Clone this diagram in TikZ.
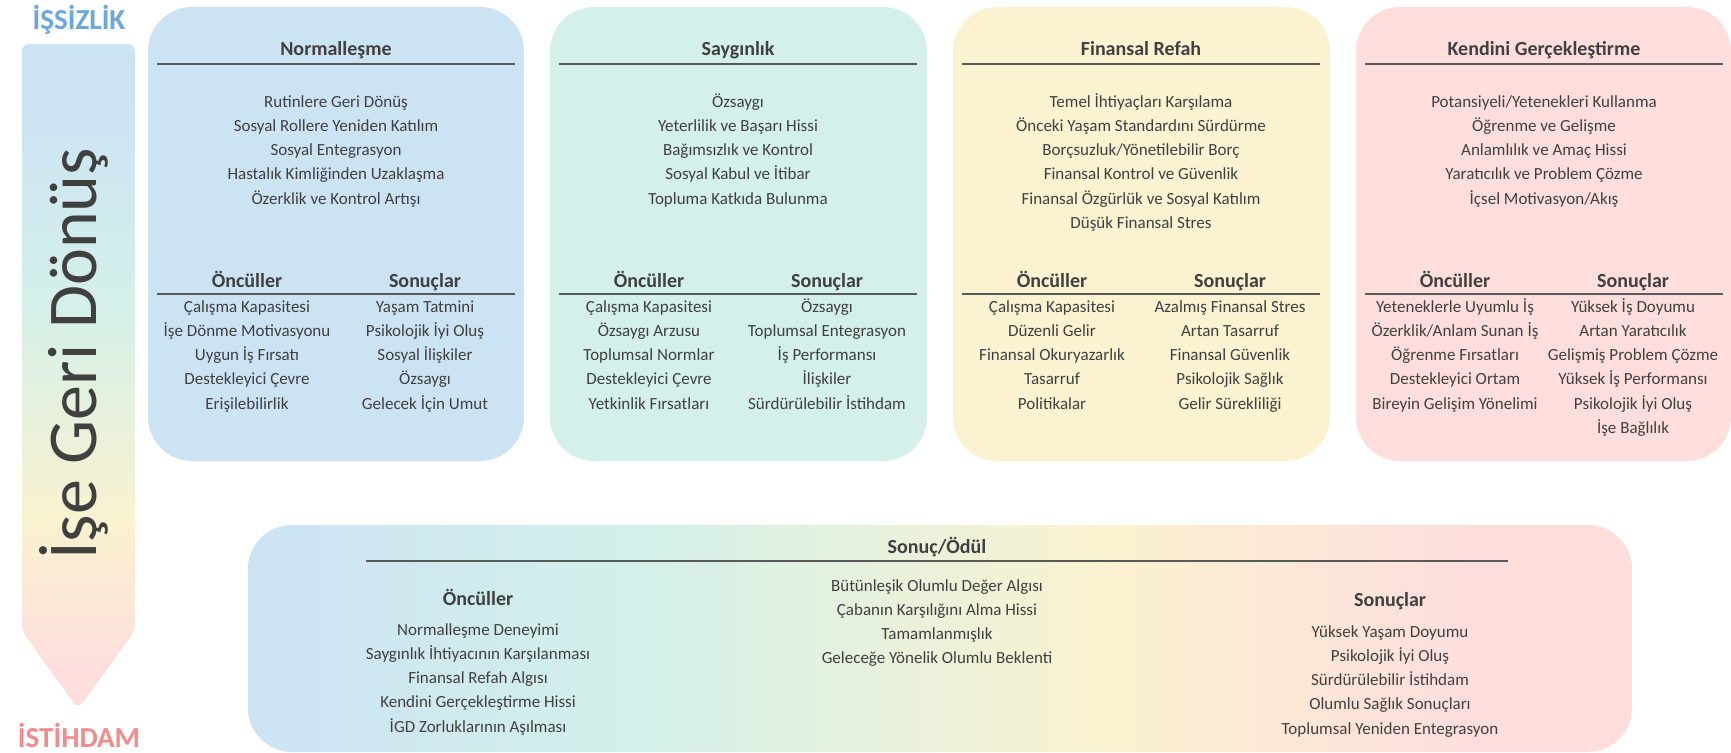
\documentclass[tikz,border=0pt]{standalone}
\usepackage{fontspec}
\setmainfont{Carlito}
\definecolor{bluebox}{HTML}{CCE3F4}
\definecolor{tealbox}{HTML}{D3F0EA}
\definecolor{yellowbox}{HTML}{FAF2D0}
\definecolor{pinkbox}{HTML}{FDDEDC}
\definecolor{txt}{HTML}{404040}
\definecolor{rulecol}{HTML}{595959}
\definecolor{startcol}{HTML}{6AA6E0}
\definecolor{endcol}{HTML}{F28B8B}
\pgfdeclareverticalshading{arrowgrad}{100bp}{color(0bp)=(pinkbox); color(28bp)=(pinkbox); color(39bp)=(yellowbox); color(56bp)=(tealbox); color(71bp)=(bluebox); color(100bp)=(bluebox)}
\pgfdeclarehorizontalshading{rewardgrad}{100bp}{color(0bp)=(bluebox); color(25bp)=(bluebox); color(39bp)=(tealbox); color(56bp)=(yellowbox); color(69bp)=(pinkbox); color(100bp)=(pinkbox)}
\tikzset{
  item/.style={font=\fontsize{17}{20}\selectfont, text=txt, inner sep=0pt, anchor=base},
  head/.style={font=\fontsize{20}{24}\selectfont\bfseries, text=txt, inner sep=0pt, anchor=base},
  endlabel/.style={font=\fontsize{29}{32}\selectfont\bfseries, inner sep=0pt, anchor=base},
  rule/.style={rulecol, line width=1.3pt}
}
% one column of lines: prefix, x, baseline of first line, lines
\newcommand\itemlist[4]{\foreach \t [count=\i] in {#4} \node[item] (#1\i) at (#2,{#3+(\i-1)*24.3}) {\t};}

\begin{document}
\begin{tikzpicture}[x=1pt,y=-1pt]
\useasboundingbox (0,0) rectangle (1731,752);

% arrow at the left
\shade[shading=arrowgrad, rounded corners=7] (22,44) -- (135,44) -- (135,631) -- (78,709) -- (22,631) -- cycle;
\node[font=\fontsize{70}{80}\selectfont, text=txt, rotate=90, anchor=base] (way) at (96,354) {İşe Geri Dönüş};
\node[endlabel, text=startcol] (start) at (79,30) {İŞSİZLİK};
\node[endlabel, text=endcol] (end) at (79,747) {İSTİHDAM};

% upper boxes
\fill[bluebox, rounded corners=44] (148,7) rectangle (524,461);
\fill[tealbox, rounded corners=44] (550,7) rectangle (927,461);
\fill[yellowbox, rounded corners=44] (953,7) rectangle (1330,461);
\fill[pinkbox, rounded corners=44] (1356,7) rectangle (1731,461);

\foreach \cx/\nm/\ttl in {336/a/Normalleşme, 738/b/Saygınlık, 1141/c/Finansal Refah, 1544/d/Kendini Gerçekleştirme}{
  \node[head] (\nm-title) at (\cx,56) {\ttl};
  \draw[rule] (\cx-179,64) -- (\cx+179,64);
  \node[head] (\nm-pre) at (\cx-89,287) {Öncüller};
  \node[head] (\nm-post) at (\cx+89,287) {Sonuçlar};
  \draw[rule] (\cx-179,294) -- (\cx+179,294);
}

% Normalleşme
\itemlist{a-}{336}{107}{Rutinlere Geri Dönüş, Sosyal Rollere Yeniden Katılım, Sosyal Entegrasyon, Hastalık Kimliğinden Uzaklaşma, Özerklik ve Kontrol Artışı}
\itemlist{a-p}{247}{312}{Çalışma Kapasitesi, İşe Dönme Motivasyonu, Uygun İş Fırsatı, Destekleyici Çevre, Erişilebilirlik}
\itemlist{a-s}{425}{312}{Yaşam Tatmini, Psikolojik İyi Oluş, Sosyal İlişkiler, Özsaygı, Gelecek İçin Umut}

% Saygınlık
\itemlist{b-}{738}{107}{Özsaygı, Yeterlilik ve Başarı Hissi, Bağımsızlık ve Kontrol, Sosyal Kabul ve İtibar, Topluma Katkıda Bulunma}
\itemlist{b-p}{649}{312}{Çalışma Kapasitesi, Özsaygı Arzusu, Toplumsal Normlar, Destekleyici Çevre, Yetkinlik Fırsatları}
\itemlist{b-s}{827}{312}{Özsaygı, Toplumsal Entegrasyon, İş Performansı, İlişkiler, Sürdürülebilir İstihdam}

% Finansal Refah
\itemlist{c-}{1141}{107}{Temel İhtiyaçları Karşılama, Önceki Yaşam Standardını Sürdürme, Borçsuzluk/Yönetilebilir Borç, Finansal Kontrol ve Güvenlik, Finansal Özgürlük ve Sosyal Katılım, Düşük Finansal Stres}
\itemlist{c-p}{1052}{312}{Çalışma Kapasitesi, Düzenli Gelir, Finansal Okuryazarlık, Tasarruf, Politikalar}
\itemlist{c-s}{1230}{312}{Azalmış Finansal Stres, Artan Tasarruf, Finansal Güvenlik, Psikolojik Sağlık, Gelir Sürekliliği}

% Kendini Gerçekleştirme
\itemlist{d-}{1544}{107}{Potansiyeli/Yetenekleri Kullanma, Öğrenme ve Gelişme, Anlamlılık ve Amaç Hissi, Yaratıcılık ve Problem Çözme, İçsel Motivasyon/Akış}
\itemlist{d-p}{1455}{312}{Yeteneklerle Uyumlu İş, Özerklik/Anlam Sunan İş, Öğrenme Fırsatları, Destekleyici Ortam, Bireyin Gelişim Yönelimi}
\itemlist{d-s}{1633}{312}{Yüksek İş Doyumu, Artan Yaratıcılık, Gelişmiş Problem Çözme, Yüksek İş Performansı, Psikolojik İyi Oluş, İşe Bağlılık}

% lower box
\shade[shading=rewardgrad, rounded corners=44] (248,525) rectangle (1632,752);
\node[head] (e-title) at (937,553) {Sonuç/Ödül};
\draw[rule] (366,561) -- (1508,561);
\node[head] (e-pre) at (478,605) {Öncüller};
\node[head] (e-post) at (1390,606) {Sonuçlar};
\itemlist{e-}{937}{591}{Bütünleşik Olumlu Değer Algısı, Çabanın Karşılığını Alma Hissi, Tamamlanmışlık, Geleceğe Yönelik Olumlu Beklenti}
\itemlist{e-p}{478}{635}{Normalleşme Deneyimi, Saygınlık İhtiyacının Karşılanması, Finansal Refah Algısı, Kendini Gerçekleştirme Hissi, İGD Zorluklarının Aşılması}
\itemlist{e-s}{1390}{637}{Yüksek Yaşam Doyumu, Psikolojik İyi Oluş, Sürdürülebilir İstihdam, Olumlu Sağlık Sonuçları, Toplumsal Yeniden Entegrasyon}
\end{tikzpicture}
\end{document}
